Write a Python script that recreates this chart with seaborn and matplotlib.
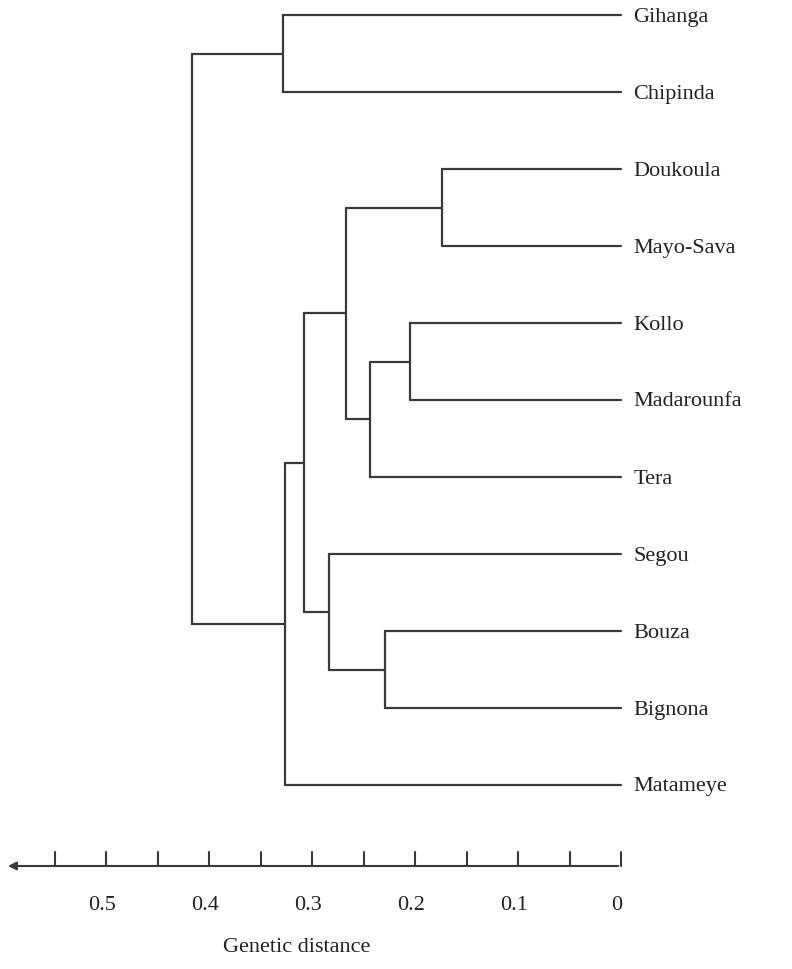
import matplotlib
matplotlib.use('Agg')
import matplotlib.pyplot as plt
import seaborn as sns
import pandas as pd

# leaves (top to bottom)
leaves = ['Gihanga', 'Chipinda', 'Doukoula', 'Mayo-Sava', 'Kollo', 'Madarounfa',
          'Tera', 'Segou', 'Bouza', 'Bignona', 'Matameye']
# merges: (name, left, right, height) ; ints = leaf index, strings = earlier node name
merges = [
    ('n1', 0, 1, 0.328),
    ('n2', 2, 3, 0.174),
    ('n3', 4, 5, 0.205),
    ('n4', 'n3', 6, 0.244),
    ('n5', 'n2', 'n4', 0.267),
    ('n6', 8, 9, 0.229),
    ('n7', 7, 'n6', 0.284),
    ('n8', 'n5', 'n7', 0.308),
    ('n9', 'n8', 10, 0.326),
    ('root', 'n1', 'n9', 0.417),
]
tick_values = [0.5, 0.4, 0.3, 0.2, 0.1, 0]
axis_label = 'Genetic distance'

sns.set_theme(style='white')
fig = plt.figure(figsize=(7.92, 9.69), dpi=100)
ax = fig.add_axes([0, 0, 1, 1])

lc = '#3a3a3a'
leaf_y = {i: 15 + 77 * i for i in range(len(leaves))}
pos = {i: (0.0, leaf_y[i]) for i in range(len(leaves))}
segs = []
for name, a, b, h in merges:
    xa, ya = pos[a]
    xb, yb = pos[b]
    segs.append(([xa, h], [ya, ya]))
    segs.append(([xb, h], [yb, yb]))
    segs.append(([h, h], [ya, yb]))
    pos[name] = (h, (ya + yb) / 2)
for xs, ys in segs:
    df = pd.DataFrame({'x': xs, 'y': ys})
    sns.lineplot(data=df, x='x', y='y', ax=ax, color=lc, lw=1.6, sort=False,
                 estimator=None)
ax.set_xlim(0.603, -0.166)
ax.set_ylim(969, 0)
ax.axis('off')

font = 'Liberation Serif'
for i, lab in enumerate(leaves):
    ax.text(-0.012, leaf_y[i] + 2, lab, fontsize=16, family=font, va='center',
            ha='left', color='#222')

# distance axis
ay = 866
ax.annotate('', xy=(0.598, ay), xytext=(0.0, ay),
            arrowprops=dict(arrowstyle='-|>', color=lc, lw=1.5,
                            mutation_scale=12))
k = 0
while k <= 11:
    t = k * 0.05
    ax.plot([t, t], [ay, ay - 14], color=lc, lw=1.5)
    k += 1
for t in tick_values:
    ax.text(t + 0.004, 905, f'{t:g}', fontsize=16, family=font, ha='center',
            va='center', color='#222')
ax.text(0.315, 948, axis_label, fontsize=16, family=font, ha='center',
        va='center', color='#222')

fig.savefig('out.png', dpi=100, facecolor='white')
